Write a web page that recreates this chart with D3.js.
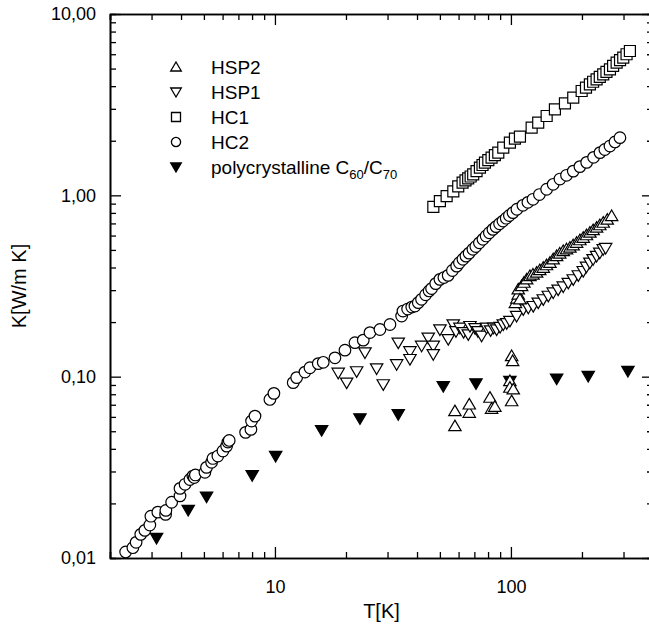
<!DOCTYPE html>
<html><head><meta charset="utf-8">
<script src="https://cdn.jsdelivr.net/npm/d3@7"></script>
<style>
body{margin:0;background:#fff;}
svg{font-family:"Liberation Sans",Arial,Helvetica,sans-serif;}
</style></head>
<body><svg id="c" width="649" height="633"></svg>
<script>
// ---- data ----
const seriesNames = ["HSP2","HSP1","HC1","HC2","polycrystalline"];
const hsp2T = [57.9,57.9,66.6,66.6,81.5,82.8,85.5,99.0,99.0,100.7,102.3,100.7,101.7,104.5,106.0,107.4,107.4,109.2,111.0,113.5,116.6,120.4,124.0,128.5,132.5,137.1,141.5,146.3,151,156.2,161,166.6,172,177.8,183.5,189.8,196,202.5,209,216.1,223,230.7,238,246.1,256,267.2];
const hsp2K = [0.0534,0.0646,0.0633,0.0703,0.0766,0.0666,0.0683,0.0946,0.0870,0.0733,0.0851,0.130,0.122,0.255,0.270,0.284,0.303,0.267,0.316,0.330,0.344,0.359,0.366,0.375,0.387,0.399,0.412,0.425,0.444,0.463,0.478,0.493,0.504,0.515,0.531,0.548,0.566,0.584,0.603,0.623,0.643,0.664,0.685,0.707,0.735,0.769];
const hsp1T = [18.54,20.13,22.19,24.07,26.97,28.77,32.79,33.31,37.33,37.33,41.84,44.63,46.87,46.87,50.03,54.24,56.95,58.5,60.81,63.0,65.94,67.05,70.5,72.5,75.13,78.89,82.0,84.5,87.0,90.0,92.8,96.0,99.0,105.7,112.8,118.5,124.3,130.5,137.1,144,151.1,158.5,166.6,175,183.7,193,202.5,209,216.1,223,230.7,238,246.1,252];
const hsp1K = [0.105,0.0927,0.107,0.136,0.111,0.0907,0.117,0.154,0.138,0.125,0.148,0.164,0.148,0.133,0.182,0.161,0.194,0.178,0.186,0.176,0.171,0.190,0.185,0.178,0.168,0.186,0.180,0.186,0.182,0.188,0.194,0.197,0.203,0.216,0.235,0.240,0.245,0.256,0.267,0.279,0.291,0.302,0.314,0.329,0.344,0.362,0.382,0.404,0.425,0.444,0.463,0.482,0.504,0.512];
const hc1T = [46.9,50.0,53.4,57.0,59.8,62.4,64.2,65.9,67.5,69.2,71.5,73.9,75.8,77.6,80.2,82.8,85.5,88.4,92.8,99.0,104.0,109.2,122.4,130.5,141.7,153.6,169.4,183.7,199.4,208,216.1,223,230.7,238,246.1,254,262.8,271,280.5,290,299.2,309,319.3];
const hc1K = [0.864,0.930,0.991,1.052,1.121,1.175,1.21,1.241,1.27,1.305,1.36,1.421,1.47,1.515,1.565,1.614,1.665,1.720,1.833,1.953,2.054,2.107,2.363,2.518,2.738,2.981,3.217,3.459,3.761,3.93,4.095,4.23,4.364,4.50,4.651,4.80,4.955,5.17,5.396,5.57,5.75,6.00,6.25];
const hc2T = [2.33,2.50,2.58,2.70,2.81,2.95,2.98,3.19,3.44,3.45,3.65,3.96,3.96,4.16,4.36,4.49,4.55,4.60,5.05,5.13,5.39,5.46,5.73,6.02,6.24,6.32,6.40,7.51,7.91,7.96,8.23,9.52,9.90,11.95,12.36,13.40,14.07,15.26,16.02,17.96,19.80,21.83,23.67,25.27,27.86,30.72,34.43,34.87,36.5,38.0,39.2,40.5,41.8,43.5,45.0,46.1,48.0,50.0,52.0,54.2,56.5,58.9,60.5,62.6,64.5,66.5,69.0,71.0,73.5,76.1,78.5,81.0,83.9,86.5,89.5,92.5,95.5,98.5,102.0,106.0,112.4,118,124,132,141.7,151,161.3,172,183.7,196,209.4,224,238.4,250,262.8,276,289.7];
const hc2K = [0.0108,0.0114,0.0122,0.0135,0.0142,0.0152,0.0170,0.0179,0.0174,0.0183,0.0203,0.0220,0.0242,0.0255,0.0271,0.0283,0.0278,0.0287,0.0297,0.0316,0.0337,0.0354,0.0365,0.0389,0.0414,0.0436,0.0445,0.0493,0.0512,0.0569,0.0606,0.0749,0.0809,0.0927,0.0988,0.106,0.112,0.118,0.120,0.127,0.140,0.154,0.159,0.175,0.182,0.194,0.216,0.230,0.236,0.242,0.245,0.256,0.267,0.283,0.297,0.306,0.326,0.344,0.352,0.362,0.385,0.407,0.425,0.444,0.462,0.480,0.504,0.522,0.547,0.572,0.597,0.622,0.649,0.672,0.697,0.721,0.748,0.774,0.803,0.838,0.881,0.915,0.951,1.01,1.08,1.15,1.23,1.29,1.36,1.44,1.52,1.62,1.72,1.79,1.87,1.97,2.08];
const polyT = [3.15,4.29,5.13,8.01,10.07,15.77,22.92,33.31,51.67,71.1,99.0,156.2,212.6,313.2];
const polyK = [0.0129,0.0184,0.0218,0.0286,0.0365,0.0507,0.0589,0.0620,0.0887,0.0918,0.0946,0.0975,0.1008,0.1074];
const xMajor = [10,100];
const xMinor = [2,3,4,5,6,7,8,9,20,30,40,50,60,70,80,90,200,300,400];
const yMajor = [0.01,0.1,1,10];
const yMajorLabels = ["0,01","0,10","1,00","10,00"];
const yMinor = [0.02,0.03,0.04,0.05,0.06,0.07,0.08,0.09,0.2,0.3,0.4,0.5,0.6,0.7,0.8,0.9,2,3,4,5,6,7,8,9];
const xTitle = "T[K]";
const yTitle = "K[W/m K]";

// ---- chart ----
const svg = d3.select("#c");
const L=110, R=653, T=14, B=558;
const x = d3.scaleLog().domain([2,400]).range([L,R]);
const y = d3.scaleLog().domain([0.01,10]).range([B,T]);
const fs = 18;

function styleAxis(g){
  g.selectAll(".domain").attr("stroke","#000").attr("stroke-width",1.6);
  g.selectAll(".tick line").attr("stroke","#000").attr("stroke-width",1.3);
  g.selectAll("text").attr("font-size",fs).attr("fill","#000").attr("font-family","Liberation Sans, Arial, sans-serif");
}
// bottom
svg.append("g").attr("transform",`translate(0,${B})`).call(d3.axisBottom(x).tickValues(xMinor).tickSize(-6).tickFormat("")).call(styleAxis);
svg.append("g").attr("transform",`translate(0,${B})`).call(d3.axisBottom(x).tickValues(xMajor).tickSize(-11).tickSizeOuter(0).tickPadding(22).tickFormat(d3.format("d"))).call(styleAxis);
// top
svg.append("g").attr("transform",`translate(0,${T})`).call(d3.axisTop(x).tickValues(xMinor).tickSize(-6).tickFormat("")).call(styleAxis);
svg.append("g").attr("transform",`translate(0,${T})`).call(d3.axisTop(x).tickValues(xMajor).tickSize(-11).tickSizeOuter(0).tickFormat("")).call(styleAxis);
// left
svg.append("g").attr("transform",`translate(${L},0)`).call(d3.axisLeft(y).tickValues(yMinor).tickSize(-6).tickFormat("")).call(styleAxis);
svg.append("g").attr("transform",`translate(${L},0)`).call(d3.axisLeft(y).tickValues(yMajor).tickSize(-11).tickSizeOuter(0).tickPadding(14).tickFormat((d,i)=>yMajorLabels[i])).call(styleAxis);
// right
svg.append("g").attr("transform",`translate(${R},0)`).call(d3.axisRight(y).tickValues(yMinor).tickSize(-6).tickFormat("")).call(styleAxis);
svg.append("g").attr("transform",`translate(${R},0)`).call(d3.axisRight(y).tickValues(yMajor).tickSize(-11).tickSizeOuter(0).tickFormat("")).call(styleAxis);

// titles
svg.append("text").attr("x",(L+R)/2).attr("y",618).attr("text-anchor","middle").attr("font-size",20).text(xTitle);
svg.append("text").attr("transform",`translate(26,${(T+B)/2}) rotate(-90)`).attr("text-anchor","middle").attr("font-size",20).text(yTitle);

// markers
const up = "M0,-6L6.2,4.6L-6.2,4.6Z";
const down = "M0,6L6.2,-4.6L-6.2,-4.6Z";
const sq = "M-5.5,-5.5H5.5V5.5H-5.5Z";
const circ = d3.symbol().type(d3.symbolCircle).size(Math.PI*5.8*5.8)();
function zipTK(ts,ks){return ts.map((t,i)=>({t,k:ks[i]}));}
function plot(data,path,fill){
  svg.append("g").selectAll("path").data(data).join("path")
    .attr("d",path).attr("transform",d=>`translate(${x(d.t)},${y(d.k)})`)
    .attr("fill",fill).attr("stroke","#000").attr("stroke-width",1.2);
}
plot(zipTK(hc1T,hc1K),sq,"#fff");
plot(zipTK(hc2T,hc2K),circ,"#fff");
plot(zipTK(polyT,polyK),down,"#000");
plot(zipTK(hsp1T,hsp1K),down,"#fff");
plot(zipTK(hsp2T,hsp2K),up,"#fff");

// legend
const lg = svg.append("g");
const lx=176, tx=211, rows=[67,92,117,142,167];
const lsym=[["M0,-5L5.3,4L-5.3,4Z","#fff"],["M0,5L5.3,-4L-5.3,-4Z","#fff"],["M-4.5,-4.5H4.5V4.5H-4.5Z","#fff"],[d3.symbol().type(d3.symbolCircle).size(Math.PI*4.6*4.6)(),"#fff"],["M0,5L5.3,-4L-5.3,-4Z","#000"]];
lsym.forEach((s,i)=>{
  lg.append("path").attr("d",s[0]).attr("transform",`translate(${lx},${rows[i]})`).attr("fill",s[1]).attr("stroke","#000").attr("stroke-width",1.3);
});
const lt=["HSP2","HSP1","HC1","HC2"];
lt.forEach((t,i)=>lg.append("text").attr("x",tx).attr("y",rows[i]+7).attr("font-size",19).text(t));
const pt = lg.append("text").attr("x",tx).attr("y",rows[4]+7).attr("font-size",19);
pt.append("tspan").text("polycrystalline C");
pt.append("tspan").attr("font-size",13).attr("dy",5).text("60");
pt.append("tspan").attr("dy",-5).text("/C");
pt.append("tspan").attr("font-size",13).attr("dy",5).text("70");
</script></body></html>
